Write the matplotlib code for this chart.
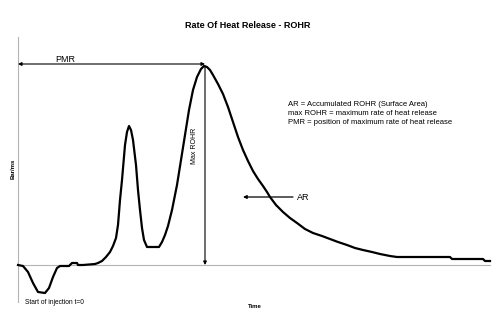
import matplotlib
matplotlib.use("Agg")
import matplotlib.pyplot as plt

plt.rcParams['font.family'] = ['Liberation Sans', 'DejaVu Sans']

# Data: time (arbitrary units) and rate of heat release (arbitrary units)
time = [0.0, 0.5, 1.0, 1.5, 2.0, 2.7, 3.1, 3.5, 3.9, 4.2, 5.1, 5.4, 5.9, 6.0, 6.5,
        7.7, 8.0, 8.4, 8.8, 9.2, 9.5, 9.8, 10.0, 10.2, 10.4, 10.7, 10.9, 11.1, 11.3,
        11.5, 11.8, 12.0, 12.2, 12.4, 12.6, 12.9, 14.1, 14.4, 14.7, 15.0, 15.4, 15.9,
        16.3, 16.7, 17.1, 17.5, 17.9, 18.3, 18.6, 18.9, 19.2, 19.5, 20.0, 20.5, 21.0,
        21.5, 22.0, 22.5, 23.0, 23.5, 24.0, 24.5, 24.9, 25.2, 25.8, 26.5, 27.2, 27.9,
        28.7, 29.5, 30.4, 31.2, 32.0, 32.9, 33.7, 34.5, 35.4, 36.2, 37.2, 37.9, 43.2,
        43.4, 46.5, 46.7, 47.2]
rohr = [0.0, -0.5, -3.5, -9.0, -13.5, -14.0, -11.5, -6.0, -1.5, -0.5, -0.5, 1.0, 1.0,
        0.0, 0.0, 0.5, 1.0, 2.0, 4.0, 6.5, 9.5, 13.5, 20.0, 32.5, 42.5, 60.0, 66.5,
        69.5, 67.5, 62.5, 50.0, 37.5, 27.5, 18.5, 12.5, 9.0, 9.0, 11.5, 15.0, 19.5,
        27.5, 40.0, 52.5, 65.0, 77.5, 87.5, 94.0, 98.0, 99.5, 99.0, 97.5, 95.0, 90.5,
        85.5, 79.0, 71.5, 64.0, 57.5, 52.0, 47.0, 43.0, 39.5, 36.5, 34.0, 30.0, 26.5,
        23.5, 21.0, 18.0, 16.0, 14.5, 13.0, 11.5, 10.0, 8.5, 7.5, 6.5, 5.5, 4.5, 4.0,
        4.0, 3.0, 3.0, 2.0, 2.0]

peak_t = 18.7
peak_v = 100.0
ar_y = 34.0

fig = plt.figure(figsize=(5.0, 3.24), dpi=100)
ax = fig.add_axes([0, 0, 1, 1])
ax.set_xlim(-1.8, 48.2)
ax.set_ylim(-29.5, 132.5)
ax.axis('off')

gray = '#b4b4b4'
# y axis and zero baseline
ax.plot([0, 0], [-18.5, 114], color=gray, lw=0.8)
ax.plot([0, 47.2], [0, 0], color=gray, lw=0.8)

# curve
ax.plot(time, rohr, color='black', lw=1.6, solid_joinstyle='round')

# PMR arrow
ax.annotate('', xy=(peak_t, peak_v + 0.5), xytext=(0, peak_v + 0.5),
            arrowprops=dict(arrowstyle='<|-|>', color='black', lw=0.8,
                            mutation_scale=5, shrinkA=0, shrinkB=0))
ax.text(3.7, peak_v + 0.3, 'PMR', fontsize=6.5, ha='left', va='bottom')

# Max ROHR arrow
ax.annotate('', xy=(peak_t, 0), xytext=(peak_t, peak_v - 0.5),
            arrowprops=dict(arrowstyle='-|>', color='black', lw=0.8,
                            mutation_scale=5, shrinkA=0, shrinkB=0))
ax.text(17.7, 59.5, 'Max ROHR', fontsize=5, rotation=90, ha='center', va='center')

# AR arrow
ax.annotate('', xy=(22.5, ar_y), xytext=(27.5, ar_y),
            arrowprops=dict(arrowstyle='-|>', color='black', lw=0.9,
                            mutation_scale=5, shrinkA=0, shrinkB=0))
ax.text(27.9, ar_y, 'AR', fontsize=6.5, ha='left', va='center')

# Legend text
ax.text(27.0, 80.0, 'AR = Accumulated ROHR (Surface Area)', fontsize=5.5, ha='left', va='center')
ax.text(27.0, 75.8, 'max ROHR = maximum rate of heat release', fontsize=5.5, ha='left', va='center')
ax.text(27.0, 71.4, 'PMR = position of maximum rate of heat release', fontsize=5.5, ha='left', va='center')

# Title and axis labels
ax.text(23.0, 120.0, 'Rate Of Heat Release - ROHR', fontsize=6.5, fontweight='bold',
        ha='center', va='center')
ax.text(0.7, -18.5, 'Start of injection t=0', fontsize=4.8, ha='left', va='center')
ax.text(23.7, -21.0, 'Time', fontsize=4.3, fontweight='bold', ha='center', va='center')
ax.text(-0.5, 48.0, 'Bar/ms', fontsize=4.3, fontweight='bold', rotation=90,
        ha='center', va='center')

fig.savefig('out.png', dpi=100)
